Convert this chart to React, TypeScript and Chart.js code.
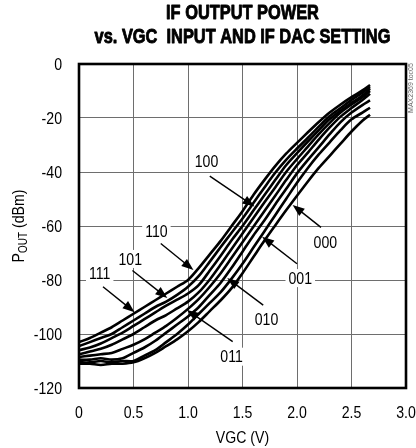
import React, { useEffect, useRef } from 'react';
import { Chart, registerables } from 'chart.js';

Chart.register(...registerables);

// ---- data ----
const vgc = [0, 0.1, 0.2, 0.3, 0.4, 0.5, 0.6, 0.7, 0.8, 0.9, 1.0, 1.1, 1.2, 1.3, 1.4, 1.5, 1.6, 1.7, 1.8, 1.9, 2.0, 2.1, 2.2, 2.3, 2.4, 2.5, 2.6, 2.67];

const p111 = [-103, -101.5, -99.5, -97.5, -95, -92.5, -90, -87.5, -85, -82.5, -80, -75.5, -70.5, -65.5, -60, -54.5, -48.5, -43, -37.8, -33.2, -29.2, -25.3, -21.5, -18, -15, -12.3, -9.8, -7.8];
const p110 = [-104.5, -103, -101.5, -100, -97.5, -95, -92.5, -90, -88, -85.5, -82.5, -78.5, -73.2, -67.8, -62.5, -57.2, -51.5, -45.8, -40.3, -35.5, -31.3, -27.3, -23.2, -19.3, -16.3, -13.3, -10.6, -8.5];
const p101 = [-106, -105, -103.5, -101.5, -99.5, -97, -94.5, -92, -89.5, -87.3, -85, -81.8, -76.5, -71, -65.3, -60, -54.3, -48.6, -43, -37.5, -33, -28.7, -24.5, -20.4, -17.2, -14.4, -11.7, -9.2];
const p100 = [-107.5, -106.5, -105.5, -104, -102, -100, -97.5, -95, -93, -90.5, -88, -84.5, -79.8, -74.3, -68.5, -62.8, -57, -51.3, -45.7, -40, -35.2, -30.6, -26, -21.8, -18, -15, -12.3, -10];
const p011 = [-108.5, -108, -107.5, -107, -105.5, -104, -102, -99.5, -97, -94, -90.7, -87, -82.5, -77.5, -71.8, -66, -60.3, -54.5, -48.8, -43, -37.5, -32.8, -28, -23.5, -19.5, -16.3, -13.3, -11];
const p010 = [-109.5, -109.5, -109, -109.5, -109, -107, -105, -102.5, -99.5, -96.5, -93.5, -90, -85.5, -81, -75.5, -69.5, -63.5, -58, -52, -46.3, -40.5, -35.5, -30.8, -26, -21.5, -18, -15.2, -13.5];
const p001 = [-110.5, -110.5, -110, -110.5, -110, -110, -108, -106, -103, -100, -96.5, -92.5, -88.5, -84.5, -79.5, -74, -68, -62, -56, -50, -44, -38.5, -33.5, -29, -24.5, -20.5, -18, -16.2];
const p000 = [-111, -111, -111.5, -111, -111, -110.5, -109, -107, -104.5, -102, -99, -95.5, -91.5, -87.5, -83, -77.5, -71.5, -65.5, -59.8, -54.2, -48.8, -43.5, -38.5, -34, -29.5, -25, -21, -18.8];

const dacSettings = ['111', '110', '101', '100', '011', '010', '001', '000'];
const seriesValues = [p111, p110, p101, p100, p011, p010, p001, p000];

const yTickValues = [0, -20, -40, -60, -80, -100, -120];
const yTickLabels = ['0', '-20', '-40', '-60', '-80', '-100', '-120'];
const xTickValues = [0, 0.5, 1.0, 1.5, 2.0, 2.5, 3.0];
const xTickLabels = ['0', '0.5', '1.0', '1.5', '2.0', '2.5', '3.0'];

const titleLines = ['IF OUTPUT POWER', 'vs. VGC  INPUT AND IF DAC SETTING'];
const xAxisTitle = 'VGC (V)';
const yAxisTitleMain = 'P';
const yAxisTitleSub = 'OUT';
const yAxisTitleRest = ' (dBm)';
const sideNote = 'MAX2369 toc05';

// curve labels: text, label centre (V, dBm), arrow tail (V, dBm), arrow tip (V, dBm)
const labelTexts = ['100', '000', '001', '110', '101', '111', '010', '011'];
const labelAt = [[1.17, -36.2], [2.26, -66.2], [2.03, -79.3], [0.71, -62.1], [0.47, -72.2], [0.19, -77.4], [1.72, -94.6], [1.40, -108.4]];
const arrowFrom = [[1.20, -41.5], [2.22, -60.5], [2.0, -74], [0.75, -66.5], [0.49, -76.5], [0.22, -82.5], [1.69, -89.3], [1.41, -102.8]];
const arrowTo = [[1.61, -52.8], [1.96, -52.2], [1.68, -64], [1.05, -76.3], [0.81, -86.7], [0.51, -91.9], [1.36, -79.3], [0.99, -91.1]];

const FONT = '"Liberation Sans", Arial, sans-serif';
const SQ = 0.83; // horizontal squeeze to imitate a narrow face

function narrowText(ctx: CanvasRenderingContext2D, text: string, x: number, y: number, font: string, align: CanvasTextAlign, baseline: CanvasTextBaseline, sq = SQ, stroke = 0) {
  ctx.save();
  ctx.font = font;
  ctx.textAlign = align;
  ctx.textBaseline = baseline;
  ctx.translate(x, y);
  ctx.scale(sq, 1);
  ctx.fillText(text, 0, 0);
  if (stroke > 0) {
    ctx.lineWidth = stroke;
    ctx.strokeStyle = ctx.fillStyle as string;
    ctx.lineJoin = 'round';
    ctx.strokeText(text, 0, 0);
  }
  ctx.restore();
}

const decor = {
  id: 'decor',
  afterDatasetsDraw(chart: any) {
    const { ctx, chartArea: a, scales } = chart;
    const xs = scales.x, ys = scales.y;
    ctx.save();
    // frame
    ctx.strokeStyle = '#000';
    ctx.lineWidth = 2.6;
    ctx.strokeRect(a.left, a.top, a.right - a.left, a.bottom - a.top);

    // labels with arrows
    const lf = `17px ${FONT}`;
    labelTexts.forEach((t, i) => {
      const lx = xs.getPixelForValue(labelAt[i][0]);
      const ly = ys.getPixelForValue(labelAt[i][1]);
      ctx.font = lf;
      const w = ctx.measureText(t).width * SQ;
      ctx.fillStyle = '#fff';
      ctx.fillRect(lx - w / 2 - 3, ly - 9, w + 6, 18);
      ctx.fillStyle = '#000';
      narrowText(ctx, t, lx, ly + 1, lf, 'center', 'middle');

      const x0 = xs.getPixelForValue(arrowFrom[i][0]);
      const y0 = ys.getPixelForValue(arrowFrom[i][1]);
      const x1 = xs.getPixelForValue(arrowTo[i][0]);
      const y1 = ys.getPixelForValue(arrowTo[i][1]);
      const ang = Math.atan2(y1 - y0, x1 - x0);
      const L = 12, H = 4.5;
      ctx.strokeStyle = '#000';
      ctx.lineWidth = 1.4;
      ctx.beginPath();
      ctx.moveTo(x0, y0);
      ctx.lineTo(x1 - Math.cos(ang) * L * 0.8, y1 - Math.sin(ang) * L * 0.8);
      ctx.stroke();
      ctx.beginPath();
      ctx.moveTo(x1, y1);
      ctx.lineTo(x1 - Math.cos(ang) * L - Math.sin(ang) * H, y1 - Math.sin(ang) * L + Math.cos(ang) * H);
      ctx.lineTo(x1 - Math.cos(ang) * L + Math.sin(ang) * H, y1 - Math.sin(ang) * L - Math.cos(ang) * H);
      ctx.closePath();
      ctx.fillStyle = '#000';
      ctx.fill();
    });
    ctx.restore();
  },
  afterDraw(chart: any) {
    const { ctx, chartArea: a, scales } = chart;
    const cx = (a.left + a.right) / 2;
    ctx.save();
    ctx.fillStyle = '#000';
    // title
    const tf = `bold 21px ${FONT}`;
    narrowText(ctx, titleLines[0], cx, 18.5, tf, 'center', 'alphabetic', 0.78, 0.9);
    narrowText(ctx, titleLines[1], cx, 43.3, tf, 'center', 'alphabetic', 0.78, 0.9);

    // tick labels
    const tk = `17px ${FONT}`;
    xTickValues.forEach((v, i) => {
      narrowText(ctx, xTickLabels[i], scales.x.getPixelForValue(v), a.bottom + 25, tk, 'center', 'middle');
    });
    yTickValues.forEach((v, i) => {
      narrowText(ctx, yTickLabels[i], a.left - 17, scales.y.getPixelForValue(v) + 1, tk, 'right', 'middle');
    });

    // x title
    narrowText(ctx, xAxisTitle, cx, 438, tk, 'center', 'middle');

    // y title with subscript
    const cy = (a.top + a.bottom) / 2;
    ctx.translate(18, cy);
    ctx.rotate(-Math.PI / 2);
    ctx.scale(SQ, 1);
    ctx.textAlign = 'left';
    ctx.textBaseline = 'alphabetic';
    const fMain = `17px ${FONT}`;
    const fSub = `12px ${FONT}`;
    ctx.font = fMain;
    const wP = ctx.measureText(yAxisTitleMain).width;
    const wR = ctx.measureText(yAxisTitleRest).width;
    ctx.font = fSub;
    const wS = ctx.measureText(yAxisTitleSub).width;
    const total = wP + wS + wR;
    let x = -total / 2;
    ctx.font = fMain;
    ctx.fillText(yAxisTitleMain, x, 6);
    x += wP;
    ctx.font = fSub;
    ctx.fillText(yAxisTitleSub, x, 9);
    x += wS;
    ctx.font = fMain;
    ctx.fillText(yAxisTitleRest, x, 6);
    ctx.restore();

    // side note
    ctx.save();
    ctx.fillStyle = '#666';
    ctx.font = `7px ${FONT}`;
    ctx.translate(411, 88);
    ctx.rotate(-Math.PI / 2);
    ctx.textAlign = 'center';
    ctx.textBaseline = 'middle';
    ctx.fillText(sideNote, 0, 0);
    ctx.restore();
  },
};

export default function App() {
  const ref = useRef<HTMLCanvasElement | null>(null);
  useEffect(() => {
    if (!ref.current) return;
    const chart = new Chart(ref.current, {
      type: 'line',
      data: {
        datasets: dacSettings.map((s, i) => ({
          label: s,
          data: vgc.map((v, j) => ({ x: v, y: seriesValues[i][j] })),
          borderColor: '#000',
          borderWidth: 2.6,
          pointRadius: 0,
          tension: 0.3,
          fill: false,
        })),
      },
      options: {
        animation: false,
        responsive: false,
        maintainAspectRatio: false,
        devicePixelRatio: 1,
        layout: { padding: { top: 64, right: 10, left: 0, bottom: 0 } },
        plugins: { legend: { display: false }, tooltip: { enabled: false }, title: { display: false } },
        scales: {
          x: {
            type: 'linear',
            min: 0,
            max: 3,
            ticks: { stepSize: 0.5, display: false },
            grid: { color: '#6e6e6e', lineWidth: 1, drawTicks: false },
            border: { display: false },
            afterFit: (s: any) => { s.height = 60; },
          },
          y: {
            type: 'linear',
            min: -120,
            max: 0,
            ticks: { stepSize: 20, display: false },
            grid: { color: '#6e6e6e', lineWidth: 1, drawTicks: false },
            border: { display: false },
            afterFit: (s: any) => { s.width = 79; },
          },
        },
      },
      plugins: [decor],
    });
    return () => chart.destroy();
  }, []);
  return (
    <div style={{ position: 'fixed', left: 0, top: 0, width: 416, height: 448, background: '#fff' }}>
      <canvas ref={ref} width={416} height={448} />
    </div>
  );
}
